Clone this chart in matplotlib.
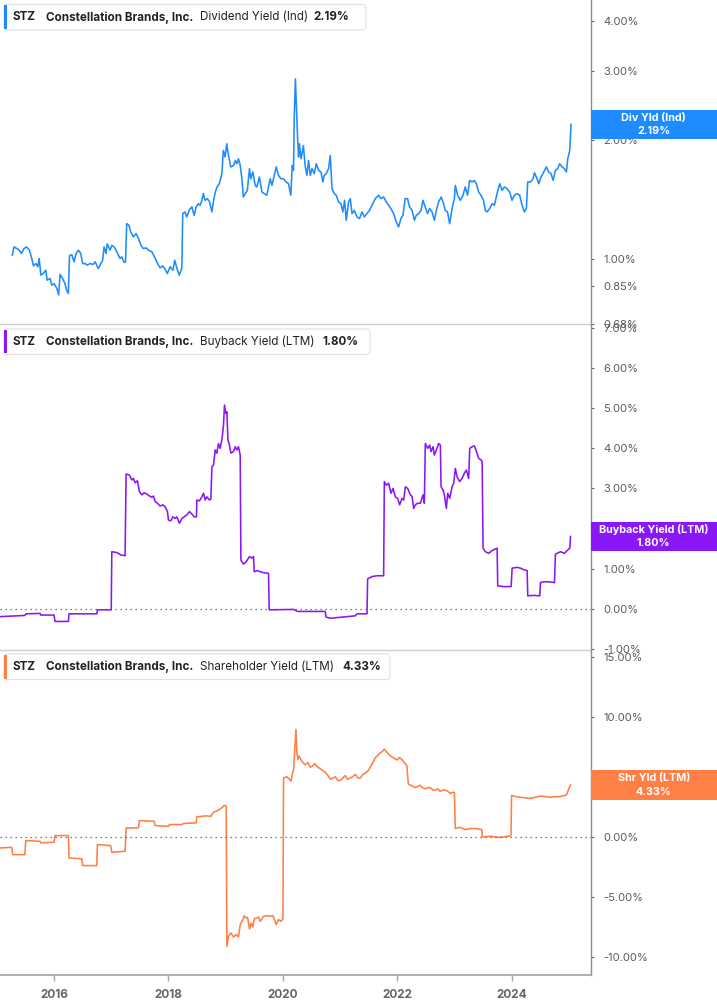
import matplotlib
matplotlib.use("Agg")
import matplotlib.pyplot as plt
from matplotlib.patches import Rectangle, FancyBboxPatch
from matplotlib.ticker import FixedLocator, FuncFormatter, NullLocator

plt.rcParams['font.family'] = ['Inter', 'DejaVu Sans']

# ---------------- data ----------------
ticker = "STZ"
company = "Constellation Brands, Inc."
metric_names = ["Dividend Yield (Ind)", "Buyback Yield (LTM)", "Shareholder Yield (LTM)"]
tag_names = ["Div Yld (Ind)", "Buyback Yield (LTM)", "Shr Yld (LTM)"]
last_values = [2.19, 1.80, 4.33]

div_dates = [2015.27, 2015.30, 2015.35, 2015.39, 2015.43, 2015.475, 2015.52, 2015.57, 2015.61, 2015.64,
             2015.685, 2015.715, 2015.74, 2015.77, 2015.81, 2015.855, 2015.88, 2015.93, 2015.96, 2016.00,
             2016.05, 2016.08, 2016.105, 2016.15, 2016.19, 2016.22, 2016.25, 2016.27, 2016.31, 2016.35,
             2016.385, 2016.425, 2016.467, 2016.50, 2016.54, 2016.58, 2016.63, 2016.68, 2016.72, 2016.75,
             2016.775, 2016.805, 2016.85, 2016.875, 2016.91, 2016.93, 2016.98, 2017.01, 2017.05, 2017.085,
             2017.125, 2017.155, 2017.185, 2017.225, 2017.25, 2017.27, 2017.31, 2017.34, 2017.39, 2017.435,
             2017.475, 2017.52, 2017.56, 2017.61, 2017.65, 2017.71, 2017.77, 2017.81, 2017.855, 2017.90,
             2017.94, 2017.98, 2018.03, 2018.08, 2018.11, 2018.15, 2018.19, 2018.235, 2018.25, 2018.29,
             2018.32, 2018.37, 2018.41, 2018.45, 2018.485, 2018.525, 2018.555, 2018.585, 2018.61, 2018.64,
             2018.68, 2018.72, 2018.76, 2018.79, 2018.82, 2018.85, 2018.89, 2018.935, 2018.96, 2018.99,
             2019.02, 2019.05, 2019.09, 2019.14, 2019.17, 2019.197, 2019.225, 2019.255, 2019.285, 2019.31,
             2019.36, 2019.38, 2019.417, 2019.44, 2019.477, 2019.517, 2019.547, 2019.59, 2019.635, 2019.675,
             2019.72, 2019.78, 2019.81, 2019.85, 2019.885, 2019.925, 2019.967, 2020.01, 2020.06, 2020.10,
             2020.14, 2020.165, 2020.187, 2020.20, 2020.22, 2020.235, 2020.257, 2020.275, 2020.29, 2020.32,
             2020.36, 2020.39, 2020.42, 2020.45, 2020.48, 2020.51, 2020.55, 2020.585, 2020.625, 2020.667,
             2020.70, 2020.725, 2020.76, 2020.80, 2020.83, 2020.86, 2020.90, 2020.935, 2020.975, 2021.017,
             2021.05, 2021.08, 2021.11, 2021.15, 2021.18, 2021.21, 2021.25, 2021.297, 2021.342, 2021.384,
             2021.425, 2021.47, 2021.517, 2021.559, 2021.617, 2021.675, 2021.716, 2021.762, 2021.81, 2021.85,
             2021.89, 2021.937, 2021.984, 2022.024, 2022.066, 2022.10, 2022.14, 2022.18, 2022.217, 2022.26,
             2022.30, 2022.334, 2022.375, 2022.416, 2022.45, 2022.49, 2022.53, 2022.567, 2022.61, 2022.65,
             2022.684, 2022.724, 2022.77, 2022.81, 2022.84, 2022.88, 2022.917, 2022.96, 2023.00, 2023.016,
             2023.057, 2023.104, 2023.15, 2023.19, 2023.23, 2023.267, 2023.309, 2023.35, 2023.384, 2023.424,
             2023.466, 2023.51, 2023.54, 2023.57, 2023.617, 2023.659, 2023.70, 2023.746, 2023.792, 2023.834,
             2023.874, 2023.92, 2023.967, 2024.008, 2024.049, 2024.096, 2024.142, 2024.184, 2024.224, 2024.259,
             2024.282, 2024.33, 2024.376, 2024.40, 2024.446, 2024.474, 2024.516, 2024.562, 2024.609, 2024.65,
             2024.69, 2024.726, 2024.766, 2024.806, 2024.841, 2024.884, 2024.924, 2024.959, 2024.982, 2025.017,
             2025.04]
div_vals = [1.02, 1.07, 1.06, 1.05, 1.03, 1.06, 1.07, 1.05, 1.00, 0.958,
            0.971, 0.953, 1.00, 0.907, 0.916, 0.934, 0.881, 0.890, 0.856, 0.864,
            0.839, 0.808, 0.911, 0.890, 0.864, 0.831, 0.815, 1.016, 1.023, 0.981,
            1.03, 1.05, 1.03, 0.971, 0.971, 0.962, 0.971, 0.966, 0.981, 0.958,
            0.943, 0.962, 0.990, 1.07, 1.03, 1.09, 1.05, 1.08, 1.07, 1.05,
            1.02, 1.00, 1.01, 0.977, 0.981, 1.226, 1.214, 1.168, 1.135, 1.157,
            1.124, 1.08, 1.06, 1.064, 1.05, 1.04, 1.00, 0.971, 0.947, 0.958,
            0.939, 0.916, 0.953, 0.934, 0.990, 0.943, 0.907, 0.947, 1.30, 1.313,
            1.275, 1.333, 1.352, 1.287, 1.352, 1.378, 1.365, 1.405, 1.461, 1.405,
            1.419, 1.392, 1.313, 1.405, 1.475, 1.519, 1.548, 1.642, 1.88, 1.81,
            1.955, 1.826, 1.708, 1.723, 1.773, 1.74, 1.791, 1.723, 1.594, 1.433,
            1.475, 1.489, 1.69, 1.594, 1.658, 1.533, 1.519, 1.61, 1.475, 1.461,
            1.447, 1.594, 1.533, 1.625, 1.708, 1.625, 1.594, 1.594, 1.564, 1.548,
            1.447, 1.723, 1.674, 2.284, 2.857, 2.493, 2.052, 1.81, 1.955, 1.791,
            1.935, 1.723, 1.625, 1.773, 1.625, 1.69, 1.642, 1.74, 1.674, 1.658,
            1.564, 1.625, 1.642, 1.69, 1.826, 1.504, 1.461, 1.447, 1.392, 1.378,
            1.313, 1.405, 1.25, 1.392, 1.419, 1.30, 1.325, 1.275, 1.263, 1.313,
            1.275, 1.30, 1.325, 1.365, 1.419, 1.447, 1.419, 1.433, 1.392, 1.365,
            1.339, 1.30, 1.238, 1.203, 1.263, 1.287, 1.419, 1.419, 1.352, 1.325,
            1.25, 1.287, 1.30, 1.325, 1.405, 1.352, 1.30, 1.339, 1.313, 1.25,
            1.325, 1.392, 1.433, 1.378, 1.325, 1.313, 1.226, 1.339, 1.419, 1.533,
            1.447, 1.405, 1.447, 1.519, 1.447, 1.578, 1.564, 1.578, 1.548, 1.475,
            1.447, 1.405, 1.325, 1.313, 1.339, 1.378, 1.365, 1.461, 1.548, 1.49,
            1.519, 1.504, 1.475, 1.405, 1.447, 1.461, 1.447, 1.365, 1.313, 1.339,
            1.564, 1.564, 1.594, 1.65, 1.594, 1.548, 1.61, 1.658, 1.708, 1.658,
            1.642, 1.578, 1.674, 1.69, 1.74, 1.708, 1.69, 1.658, 1.791, 1.88,
            2.19]

bb_dates = [2015.055, 2015.49, 2015.51, 2015.755, 2015.767, 2016.0, 2016.017, 2016.25, 2016.262, 2016.747,
            2016.758, 2017.0, 2017.01, 2017.097, 2017.167, 2017.242, 2017.26, 2017.318, 2017.36, 2017.388,
            2017.418, 2017.458, 2017.493, 2017.535, 2017.575, 2017.622, 2017.668, 2017.71, 2017.738, 2017.768,
            2017.808, 2017.855, 2017.902, 2017.943, 2017.983, 2018.0, 2018.042, 2018.077, 2018.118, 2018.147,
            2018.193, 2018.235, 2018.275, 2018.322, 2018.368, 2018.41, 2018.45, 2018.49, 2018.497, 2018.543,
            2018.585, 2018.613, 2018.643, 2018.672, 2018.718, 2018.742, 2018.76, 2018.788, 2018.818, 2018.847,
            2018.875, 2018.905, 2018.935, 2018.963, 2018.98, 2019.005, 2019.022, 2019.04, 2019.068, 2019.092,
            2019.138, 2019.168, 2019.197, 2019.225, 2019.255, 2019.267, 2019.313, 2019.36, 2019.418, 2019.46,
            2019.488, 2019.5, 2019.558, 2019.605, 2019.663, 2019.75, 2019.762, 2020.188, 2020.258, 2020.742,
            2020.755, 2020.83, 2021.267, 2021.297, 2021.472, 2021.483, 2021.56, 2021.647, 2021.763, 2021.775,
            2021.81, 2021.85, 2021.892, 2021.927, 2021.967, 2022.008, 2022.043, 2022.085, 2022.113, 2022.143,
            2022.183, 2022.23, 2022.26, 2022.288, 2022.318, 2022.358, 2022.405, 2022.452, 2022.475, 2022.492,
            2022.533, 2022.568, 2022.592, 2022.627, 2022.65, 2022.685, 2022.725, 2022.755, 2022.767, 2022.802,
            2022.825, 2022.86, 2022.883, 2022.918, 2022.96, 2022.988, 2023.017, 2023.047, 2023.092, 2023.135,
            2023.175, 2023.21, 2023.25, 2023.268, 2023.31, 2023.35, 2023.385, 2023.425, 2023.467, 2023.485,
            2023.502, 2023.543, 2023.6, 2023.66, 2023.747, 2023.758, 2023.863, 2023.992, 2024.01, 2024.097,
            2024.155, 2024.213, 2024.272, 2024.283, 2024.388, 2024.493, 2024.505, 2024.563, 2024.65, 2024.75,
            2024.767, 2024.855, 2024.925, 2024.972, 2025.018, 2025.03]
bb_vals = [-0.20, -0.17, -0.13, -0.12, -0.16, -0.16, -0.32, -0.32, -0.13, -0.13,
           -0.03, -0.03, 1.42, 1.40, 1.34, 1.32, 3.36, 3.33, 3.21, 3.25,
           3.14, 3.19, 2.92, 2.84, 2.89, 2.86, 2.81, 2.78, 2.81, 2.67,
           2.63, 2.56, 2.59, 2.54, 2.42, 2.21, 2.19, 2.29, 2.25, 2.29,
           2.13, 2.25, 2.29, 2.34, 2.42, 2.36, 2.29, 2.29, 2.71, 2.69,
           2.79, 2.88, 2.71, 2.79, 2.71, 2.73, 3.54, 3.58, 3.96, 3.88,
           4.12, 4.00, 4.21, 4.58, 5.08, 4.87, 4.91, 4.21, 4.08, 3.88,
           3.92, 4.04, 3.96, 4.04, 3.83, 1.21, 1.11, 1.17, 1.30, 1.26,
           1.30, 0.92, 0.95, 0.92, 0.90, 0.88, -0.03, -0.02, -0.07, -0.07,
           -0.21, -0.24, -0.18, -0.13, -0.13, 0.74, 0.80, 0.82, 0.82, 3.17,
           3.08, 3.13, 2.88, 3.00, 2.79, 2.75, 2.59, 2.75, 2.71, 3.04,
           3.00, 2.84, 2.80, 2.50, 2.59, 2.63, 2.63, 2.84, 2.63, 4.12,
           4.00, 4.08, 3.92, 4.04, 3.83, 3.96, 4.12, 4.08, 3.04, 2.96,
           2.84, 2.50, 2.88, 2.75, 3.04, 3.13, 3.50, 3.29, 3.17, 3.25,
           3.38, 3.46, 3.25, 4.00, 4.04, 4.06, 3.92, 3.75, 3.71, 3.67,
           1.51, 1.42, 1.38, 1.45, 1.51, 0.57, 0.55, 0.55, 1.01, 1.03,
           1.01, 0.97, 0.95, 0.32, 0.33, 0.32, 0.65, 0.67, 0.67, 0.65,
           1.36, 1.42, 1.38, 1.45, 1.51, 1.80]

shr_dates = [2015.055, 2015.26, 2015.277, 2015.49, 2015.505, 2015.755, 2015.767, 2016.0, 2016.017, 2016.25,
             2016.262, 2016.485, 2016.50, 2016.747, 2016.758, 2016.99, 2017.01, 2017.242, 2017.26, 2017.475,
             2017.493, 2017.75, 2017.768, 2018.0, 2018.018, 2018.235, 2018.263, 2018.485, 2018.497, 2018.613,
             2018.643, 2018.742, 2018.788, 2018.875, 2018.952, 2018.975, 2019.01, 2019.022, 2019.05, 2019.092,
             2019.138, 2019.185, 2019.225, 2019.255, 2019.302, 2019.325, 2019.36, 2019.383, 2019.418, 2019.442,
             2019.477, 2019.5, 2019.547, 2019.575, 2019.605, 2019.663, 2019.722, 2019.78, 2019.827, 2019.85,
             2019.885, 2019.925, 2019.967, 2020.002, 2020.013, 2020.072, 2020.118, 2020.142, 2020.165, 2020.188,
             2020.212, 2020.23, 2020.247, 2020.265, 2020.287, 2020.33, 2020.39, 2020.44, 2020.48, 2020.52,
             2020.56, 2020.61, 2020.65, 2020.70, 2020.74, 2020.79, 2020.83, 2020.88, 2020.92, 2020.96,
             2021.005, 2021.05, 2021.09, 2021.13, 2021.18, 2021.22, 2021.27, 2021.31, 2021.355, 2021.40,
             2021.44, 2021.49, 2021.53, 2021.575, 2021.617, 2021.66, 2021.705, 2021.74, 2021.774, 2021.81,
             2021.85, 2021.89, 2021.93, 2021.965, 2022.0, 2022.035, 2022.07, 2022.105, 2022.14, 2022.17,
             2022.194, 2022.23, 2022.275, 2022.32, 2022.36, 2022.40, 2022.445, 2022.49, 2022.535, 2022.58,
             2022.625, 2022.67, 2022.71, 2022.75, 2022.795, 2022.84, 2022.885, 2022.93, 2022.965, 2023.0,
             2023.016, 2023.10, 2023.19, 2023.28, 2023.37, 2023.48, 2023.49, 2023.63, 2023.80, 2023.99,
             2024.0, 2024.08, 2024.15, 2024.24, 2024.33, 2024.42, 2024.50, 2024.59, 2024.68, 2024.77,
             2024.85, 2024.96, 2025.03]
shr_vals = [-0.92, -0.87, -1.48, -1.48, -0.31, -0.37, -0.50, -0.45, 0.11, 0.11,
            -1.75, -1.83, -2.39, -2.39, -0.64, -0.73, -1.28, -1.20, 0.75, 0.75,
            1.36, 1.30, 0.94, 0.88, 1.03, 1.03, 1.11, 1.17, 1.67, 1.72,
            1.75, 1.72, 2.05, 2.22, 2.50, 2.63, 2.55, -9.12, -8.28, -8.00,
            -8.33, -8.14, -8.33, -7.31, -6.89, -6.56, -6.75, -6.70, -7.67, -7.17,
            -7.50, -6.83, -6.75, -6.67, -7.03, -6.62, -6.56, -6.62, -6.56, -6.83,
            -7.31, -6.89, -7.03, -6.83, 4.92, 5.00, 4.78, 4.63, 5.19, 5.61,
            7.55, 8.94, 7.00, 6.44, 6.72, 6.3, 6.0, 6.2, 5.8, 5.9,
            6.1, 5.8, 5.7, 5.5, 5.4, 5.1, 4.8, 4.9, 5.0, 4.7,
            4.7, 4.9, 5.1, 4.8, 4.9, 5.0, 5.2, 4.9, 4.9, 5.2,
            5.3, 5.5, 5.8, 6.2, 6.6, 6.8, 7.0, 7.1, 7.3, 7.1,
            6.9, 6.7, 6.6, 6.5, 6.4, 6.6, 6.5, 6.3, 6.1, 5.9,
            4.4, 4.3, 4.2, 4.1, 4.2, 4.3, 4.1, 4.0, 4.1, 4.1,
            3.9, 3.9, 4.0, 3.8, 3.9, 3.9, 3.8, 3.6, 3.7, 3.7,
            0.7, 0.8, 0.6, 0.7, 0.7, 0.6, 0.0, 0.05, -0.05, 0.1,
            3.45, 3.35, 3.3, 3.25, 3.2, 3.3, 3.4, 3.35, 3.3, 3.35,
            3.35, 3.5, 4.33]

div_ticks = [0.68, 0.85, 1.00, 2.00, 3.00, 4.00]
bb_ticks = [-1, 0, 1, 2, 3, 4, 5, 6, 7]
shr_ticks = [-10, -5, 0, 5, 10, 15]
year_ticks = [2016, 2018, 2020, 2022, 2024]
year_labels = ["2016", "2018", "2020", "2022", "2024"]

colors = ["#1e8cff", "#8a17f5", "#ff7f45"]

# ---------------- layout ----------------
W, H = 717, 1005
fig = plt.figure(figsize=(W / 100, H / 100), dpi=100)
AX_RIGHT = 590.5
XMIN, XMAX = 2015.055, 2025.38
panels = [(0, 324.5), (324.5, 649.5), (649.5, 975)]
ylims = [(0.68, 4.53), (-1.02, 7.09), (-11.5, 15.6)]

axes = []
for i, (top, bot) in enumerate(panels):
    ax = fig.add_axes([0, 1 - bot / H, AX_RIGHT / W, (bot - top) / H])
    axes.append(ax)
    ax.set_facecolor('none')
    for s in ['left', 'top']:
        ax.spines[s].set_visible(False)
    ax.spines['right'].set_color('#8c8c8c')
    ax.spines['right'].set_linewidth(1.0)
    ax.spines['bottom'].set_color('#cfcfcf' if i < 2 else '#a8a8a8')
    ax.spines['bottom'].set_linewidth(1.0 if i < 2 else 1.3)
    ax.yaxis.tick_right()
    ax.set_xlim(XMIN, XMAX)
    ax.tick_params(axis='y', which='major', direction='out', length=2, width=0.8,
                   color='#666666', pad=7, labelsize=8, labelcolor='#5a5a5a')
    ax.tick_params(axis='y', which='minor', length=0)
    ax.set_xticks(year_ticks)
    if i < 2:
        ax.tick_params(axis='x', length=0, labelbottom=False)
    else:
        ax.set_xticklabels(year_labels)
        ax.tick_params(axis='x', direction='out', length=4, width=1, color='#a8a8a8',
                       pad=6, labelsize=8.5, labelcolor='#666666')
        for lab in ax.get_xticklabels():
            lab.set_fontweight('bold')

# panel 1 : dividend yield (log)
ax = axes[0]
ax.set_yscale('log')
ax.set_ylim(*ylims[0])
ax.plot(div_dates, div_vals, color=colors[0], lw=1.15)
ax.yaxis.set_major_locator(FixedLocator(div_ticks))
ax.yaxis.set_minor_locator(NullLocator())
ax.yaxis.set_major_formatter(FuncFormatter(lambda v, p: f"{v:.2f}%"))

# panel 2 : buyback
ax = axes[1]
ax.set_ylim(*ylims[1])
ax.plot(bb_dates, bb_vals, color=colors[1], lw=1.15)
ax.axhline(0, color='#555555', lw=0.9, ls=(0, (1, 3)))
ax.yaxis.set_major_locator(FixedLocator(bb_ticks))
ax.yaxis.set_major_formatter(FuncFormatter(lambda v, p: f"{v:.2f}%"))

# panel 3 : shareholder yield
ax = axes[2]
ax.set_ylim(*ylims[2])
ax.plot(shr_dates, shr_vals, color=colors[2], lw=1.15)
ax.axhline(0, color='#555555', lw=0.9, ls=(0, (1, 3)))
ax.yaxis.set_major_locator(FixedLocator(shr_ticks))
ax.yaxis.set_major_formatter(FuncFormatter(lambda v, p: f"{v:.2f}%"))


def fx(x):
    return x / W


def fy(y):
    return 1 - y / H


# legend boxes
box_right = [366, 370, 390]
value_x = [313, 322, 342]
LFS = 8.4
for i, (top, bot) in enumerate(panels):
    y0 = top + 4.5
    y1 = top + 30
    box = FancyBboxPatch((fx(4), fy(y1)), fx(box_right[i]) - fx(4), fy(y0) - fy(y1),
                         boxstyle="round,pad=0,rounding_size=0.004",
                         transform=fig.transFigure, facecolor='white',
                         edgecolor='#e2e2e2', lw=0.8, zorder=5)
    fig.patches.append(box)
    bar = Rectangle((fx(4), fy(y1 - 1)), fx(3), fy(y0 + 1) - fy(y1 - 1),
                    transform=fig.transFigure, facecolor=colors[i], edgecolor='none', zorder=6)
    fig.patches.append(bar)
    yc = fy(top + 17.5)
    fig.text(fx(13), yc, ticker, fontsize=LFS, fontweight='bold', color='#222222', va='center', zorder=7)
    fig.text(fx(46), yc, company, fontsize=LFS, fontweight='bold', color='#222222', va='center', zorder=7)
    fig.text(fx(200), yc, metric_names[i], fontsize=LFS, color='#222222', va='center', zorder=7)
    fig.text(fx(value_x[i]), yc, f"{last_values[i]:.2f}%", fontsize=LFS, fontweight='bold',
             color='#222222', va='center', zorder=7)

# right value tags
fig.canvas.draw()
for i, ax in enumerate(axes):
    _, ypix = ax.transData.transform((XMAX, last_values[i]))
    yc_fig = ypix / fig.bbox.height
    h = 29.5 / H
    rect = Rectangle((fx(AX_RIGHT), yc_fig - h / 2), 1 - fx(AX_RIGHT), h,
                     transform=fig.transFigure, facecolor=colors[i], edgecolor='none', zorder=8)
    fig.patches.append(rect)
    xc = (fx(AX_RIGHT) + 1) / 2
    fig.text(xc, yc_fig + 0.0068, tag_names[i], fontsize=7.8, fontweight='bold', color='white',
             ha='center', va='center', zorder=9)
    fig.text(xc, yc_fig - 0.0068, f"{last_values[i]:.2f}%", fontsize=7.8, fontweight='bold',
             color='white', ha='center', va='center', zorder=9)

fig.savefig("out.png", dpi=100)
